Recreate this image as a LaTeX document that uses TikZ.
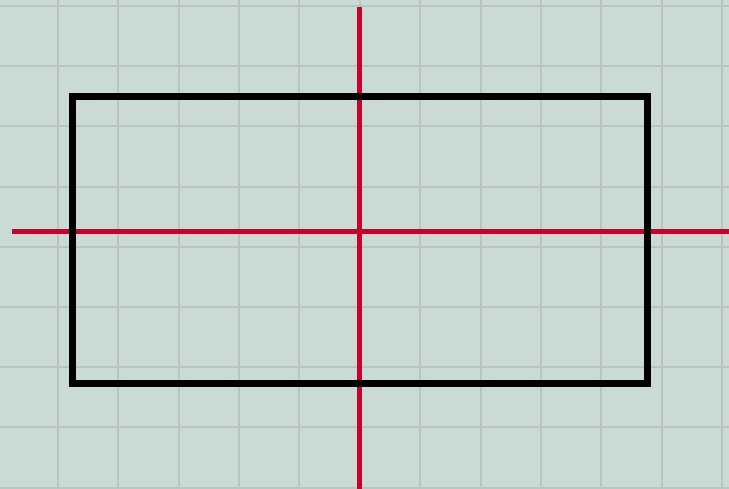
\documentclass[tikz,border=0pt]{standalone}
\definecolor{bgc}{HTML}{CADBD5}
\definecolor{gridc}{HTML}{B7C6C1}
\definecolor{axisred}{HTML}{C8002A}
\tikzset{
  gridline/.style={draw=gridc, line width=2pt},
  axisline/.style={draw=axisred, line width=5pt},
  frameline/.style={draw=black, line width=7pt, line join=miter}
}
\begin{document}
\begin{tikzpicture}[x=1pt,y=-1pt]
\useasboundingbox (0,0) rectangle (729,489);
\fill[bgc] (0,0) rectangle (729,489);
\foreach \i in {0,...,11} \draw[gridline] ({58+60.36*\i},0) -- ({58+60.36*\i},489);
\foreach \i in {0,...,8} \draw[gridline] (0,{6+60.2*\i}) -- (729,{6+60.2*\i});
\coordinate (hl) at (12,232);
\coordinate (hr) at (729,232);
\coordinate (vt) at (359,7);
\coordinate (vb) at (359,489);
\draw[axisline] (hl) -- (hr);
\draw[axisline] (vt) -- (vb);
\draw[frameline] (72,97) rectangle (647,383);
\end{tikzpicture}
\end{document}
